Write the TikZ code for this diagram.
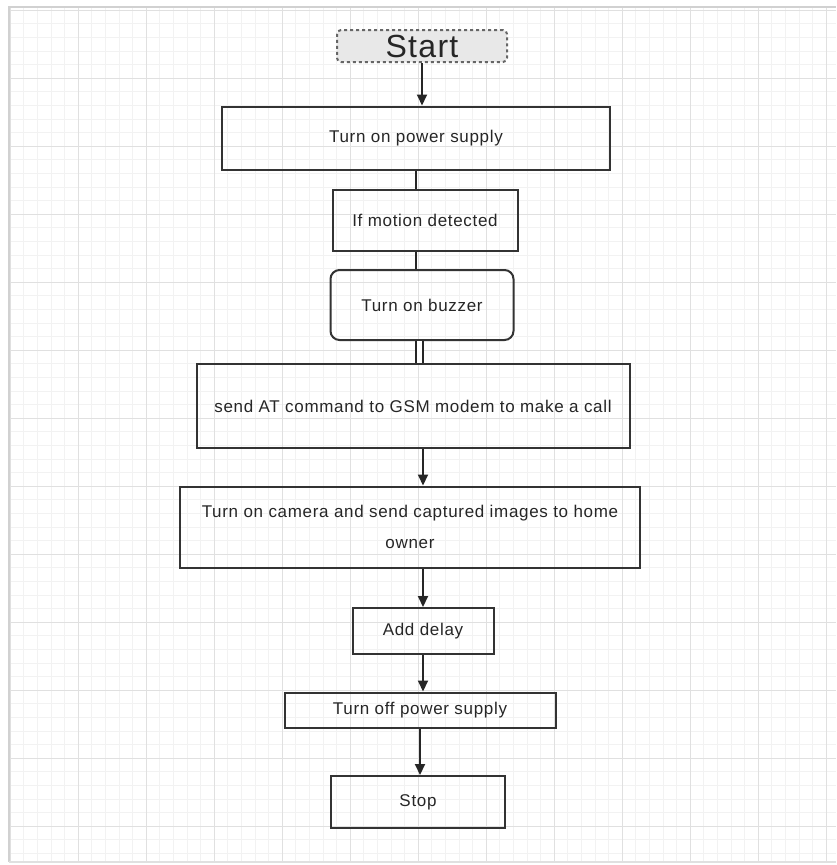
\documentclass[tikz,border=0pt]{standalone}
\usepackage{fontspec}
\setmainfont[LetterSpace=4]{Liberation Sans}
\usetikzlibrary{shapes,arrows,arrows.meta,calc}

\begin{document}
\begin{tikzpicture}[%
    x=1pt, y=-1pt,              % work in pixels, top-down
    >={Triangle[length=11pt,width=10pt]}, % filled arrow heads
    ]
% -------------------------------------------------
% Box and line styles
\tikzset{
  base/.style={draw=black!80, line width=2pt, align=center, inner sep=0pt,
    text=black!85, font=\fontsize{17}{22}\selectfont},
  proc/.style={base, rectangle},
  soft/.style={proc, rounded corners=9pt},
  term/.style={base, dashed, rounded corners=4pt, fill=black!9, draw=black!60,
    font=\fontsize{32}{32}\selectfont},
  link/.style={draw=black!85, line width=2pt},
  dbl/.style={link, double=white, double distance=5pt},
  minorgrid/.style={black!5, line width=0.6pt},
  majorgrid/.style={black!12, line width=0.8pt},
}
% -------------------------------------------------
% Page and background grid
\useasboundingbox (0,0) rectangle (836,865);
\fill[white] (0,0) rectangle (836,865);
\foreach \i in {0,...,60} \draw[minorgrid] ({10+13.6*\i},7) -- ({10+13.6*\i},862);
\foreach \i in {0,...,62} \draw[minorgrid] (10,{10+13.6*\i}) -- (836,{10+13.6*\i});
\foreach \i in {0,...,12} \draw[majorgrid] ({10+68*\i},7) -- ({10+68*\i},862);
\foreach \i in {0,...,12} \draw[majorgrid] (10,{10+68*\i}) -- (836,{10+68*\i});
\draw[black!18, line width=2pt] (9,862) -- (9,7) -- (836,7);
\draw[black!12, line width=1.5pt] (9,862) -- (836,862);

% -------------------------------------------------
% Place the nodes
\node [term, minimum width=170, minimum height=32] (start) at (422,46) {Start};
\node [proc, minimum width=388, minimum height=63] (p1) at (416,138) {Turn on power supply};
\node [proc, minimum width=185, minimum height=61] (p2) at (425,220) {If motion detected};
\node [soft, minimum width=183, minimum height=70] (p3) at (422,305) {Turn on buzzer};
\node [proc, minimum width=433, minimum height=84] (p4) at (413,406) {send AT command to GSM modem to make a call};
\node [proc, minimum width=460, minimum height=81, font=\fontsize{17}{31}\selectfont] (p5) at (410,527)
  {Turn on camera and send captured images to home\\owner};
\node [proc, minimum width=141, minimum height=46] (p6) at (423,631) {Add delay};
\node [proc, minimum width=271, minimum height=35] (p7) at (420,710) {Turn off power supply};
\node [proc, minimum width=174, minimum height=52] (p8) at (418,802) {Stop};

% -------------------------------------------------
% Connections, all straight down
\draw [link, ->] (start.south) -- (start.south |- p1.north);
\draw [link] (p1.south) -- (p1.south |- p2.north);
\draw [link] (p2.south -| p1.south) -- (p3.north -| p1.south);
\draw [dbl] ($(p3.south)+(-3,0)$) -- ($(p3.south |- p4.north)+(-3,0)$);
\draw [link, ->] (p4.south -| p6.north) -- (p5.north -| p6.north);
\draw [link, ->] (p5.south -| p6.north) -- (p6.north);
\draw [link, ->] (p6.south) -- (p6.south |- p7.north);
\draw [link, ->] (p7.south) -- (p7.south |- p8.north);

\end{tikzpicture}
\end{document}
